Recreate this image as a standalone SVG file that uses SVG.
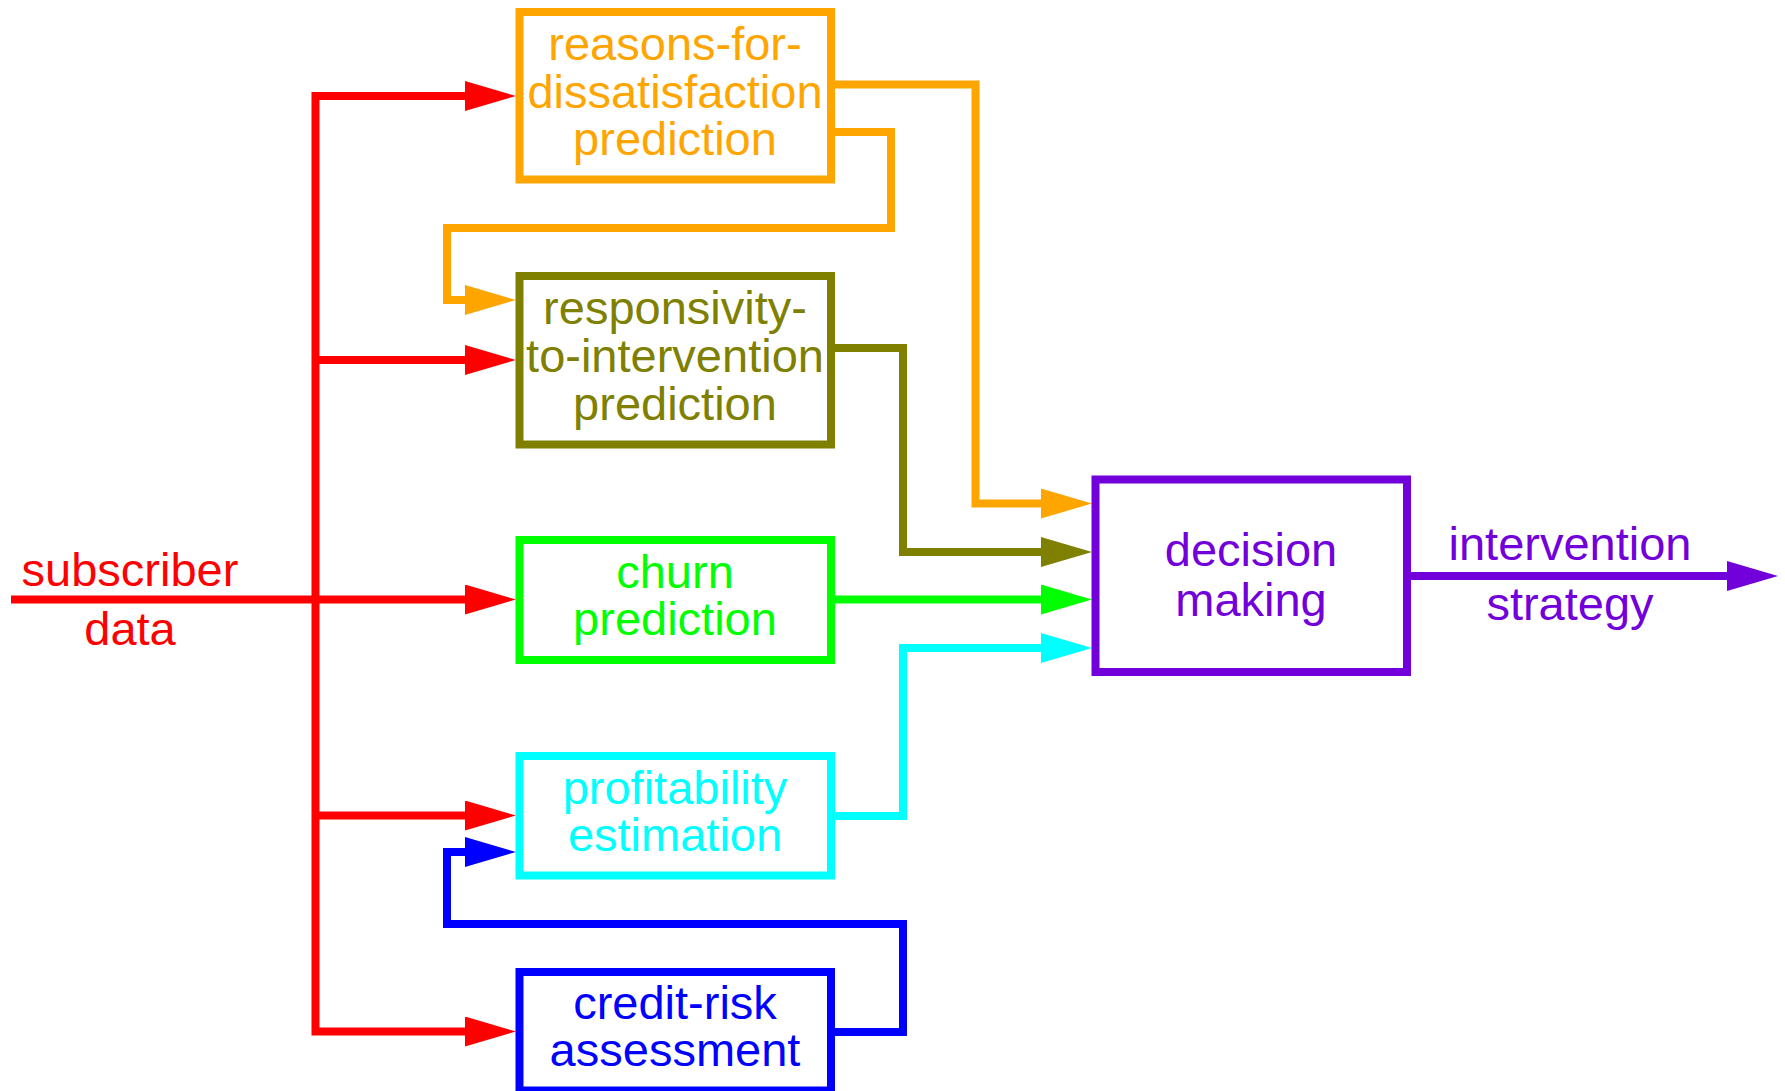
<svg xmlns="http://www.w3.org/2000/svg" width="1785" height="1091" viewBox="0 0 1785 1091">
<style>
  .box { fill: #ffffff; stroke-width: 8; }
  .ln { fill: none; stroke-width: 8; stroke-linejoin: miter; stroke-linecap: butt; }
  text { font-family: "Liberation Sans", Arial, sans-serif; font-size: 47px; text-anchor: middle; }
</style>
<defs>
  <marker id="aR" markerUnits="userSpaceOnUse" markerWidth="51" markerHeight="30" refX="10" refY="15" orient="auto"><path d="M0,0 L51,15 L0,30 Z" fill="#FF0000"/></marker>
  <marker id="aO" markerUnits="userSpaceOnUse" markerWidth="51" markerHeight="30" refX="10" refY="15" orient="auto"><path d="M0,0 L51,15 L0,30 Z" fill="#FFA500"/></marker>
  <marker id="aL" markerUnits="userSpaceOnUse" markerWidth="51" markerHeight="30" refX="10" refY="15" orient="auto"><path d="M0,0 L51,15 L0,30 Z" fill="#808000"/></marker>
  <marker id="aG" markerUnits="userSpaceOnUse" markerWidth="51" markerHeight="30" refX="10" refY="15" orient="auto"><path d="M0,0 L51,15 L0,30 Z" fill="#00FF00"/></marker>
  <marker id="aC" markerUnits="userSpaceOnUse" markerWidth="51" markerHeight="30" refX="10" refY="15" orient="auto"><path d="M0,0 L51,15 L0,30 Z" fill="#00FFFF"/></marker>
  <marker id="aB" markerUnits="userSpaceOnUse" markerWidth="51" markerHeight="30" refX="10" refY="15" orient="auto"><path d="M0,0 L51,15 L0,30 Z" fill="#0000FF"/></marker>
  <marker id="aP" markerUnits="userSpaceOnUse" markerWidth="51" markerHeight="30" refX="10" refY="15" orient="auto"><path d="M0,0 L51,15 L0,30 Z" fill="#7200DA"/></marker>
</defs>

<g id="connectors">
  <g stroke="#FF0000" class="ln">
    <path class="ln" stroke="#FF0000" d="M315.5,600 V96 H475" marker-end="url(#aR)"/>
    <path class="ln" stroke="#FF0000" d="M315.5,600 V1031.5 H475" marker-end="url(#aR)"/>
    <path class="ln" stroke="#FF0000" d="M315.5,360 H475" marker-end="url(#aR)"/>
    <path class="ln" stroke="#FF0000" d="M11,599.5 H475" marker-end="url(#aR)"/>
    <path class="ln" stroke="#FF0000" d="M315.5,815.5 H475" marker-end="url(#aR)"/>
  </g>
  <path class="ln" stroke="#FFA500" d="M831,84.5 H975.5 V503.5 H1051" marker-end="url(#aO)"/>
  <path class="ln" stroke="#FFA500" d="M831,132 H891 V228 H447 V300 H475" marker-end="url(#aO)"/>
  <path class="ln" stroke="#808000" d="M831,348 H903 V552 H1051" marker-end="url(#aL)"/>
  <path class="ln" stroke="#00FF00" d="M831,599.5 H1051" marker-end="url(#aG)"/>
  <path class="ln" stroke="#00FFFF" d="M831,816 H903 V648 H1051" marker-end="url(#aC)"/>
  <path class="ln" stroke="#0000FF" d="M831,1032 H903 V924 H447 V852 H475" marker-end="url(#aB)"/>
  <path class="ln" stroke="#7200DA" d="M1407,576 H1737" marker-end="url(#aP)"/>
</g>

<g id="input-label" fill="#FF0000">
  <text x="130" y="586">subscriber</text>
  <text x="130" y="645">data</text>
</g>

<g id="node-reasons">
  <rect class="box" stroke="#FFA500" x="519.5" y="12" width="311.5" height="167.5"/>
  <text fill="#FFA500" x="675" y="59.5">reasons-for-</text>
  <text fill="#FFA500" x="675" y="107.5">dissatisfaction</text>
  <text fill="#FFA500" x="675" y="155">prediction</text>
</g>

<g id="node-responsivity">
  <rect class="box" stroke="#808000" x="519.5" y="276" width="311.5" height="168.5"/>
  <text fill="#808000" x="675" y="323.5">responsivity-</text>
  <text fill="#808000" x="675" y="371.5">to-intervention</text>
  <text fill="#808000" x="675" y="419.5">prediction</text>
</g>

<g id="node-churn">
  <rect class="box" stroke="#00FF00" x="519.5" y="540" width="311.5" height="120"/>
  <text fill="#00FF00" x="675" y="588">churn</text>
  <text fill="#00FF00" x="675" y="635">prediction</text>
</g>

<g id="node-profitability">
  <rect class="box" stroke="#00FFFF" x="519.5" y="756" width="311.5" height="119.5"/>
  <text fill="#00FFFF" x="675" y="803.5">profitability</text>
  <text fill="#00FFFF" x="675" y="851">estimation</text>
</g>

<g id="node-credit">
  <rect class="box" stroke="#0000FF" x="519.5" y="972" width="311.5" height="118.5"/>
  <text fill="#0000FF" x="675" y="1019">credit-risk</text>
  <text fill="#0000FF" x="675" y="1066">assessment</text>
</g>

<g id="node-decision">
  <rect class="box" stroke="#7200DA" x="1095.5" y="479.5" width="311.5" height="192.5"/>
  <text fill="#7200DA" x="1251" y="566">decision</text>
  <text fill="#7200DA" x="1251" y="616">making</text>
</g>

<g id="output-label" fill="#7200DA">
  <text x="1570" y="560">intervention</text>
  <text x="1570" y="620">strategy</text>
</g>
</svg>
